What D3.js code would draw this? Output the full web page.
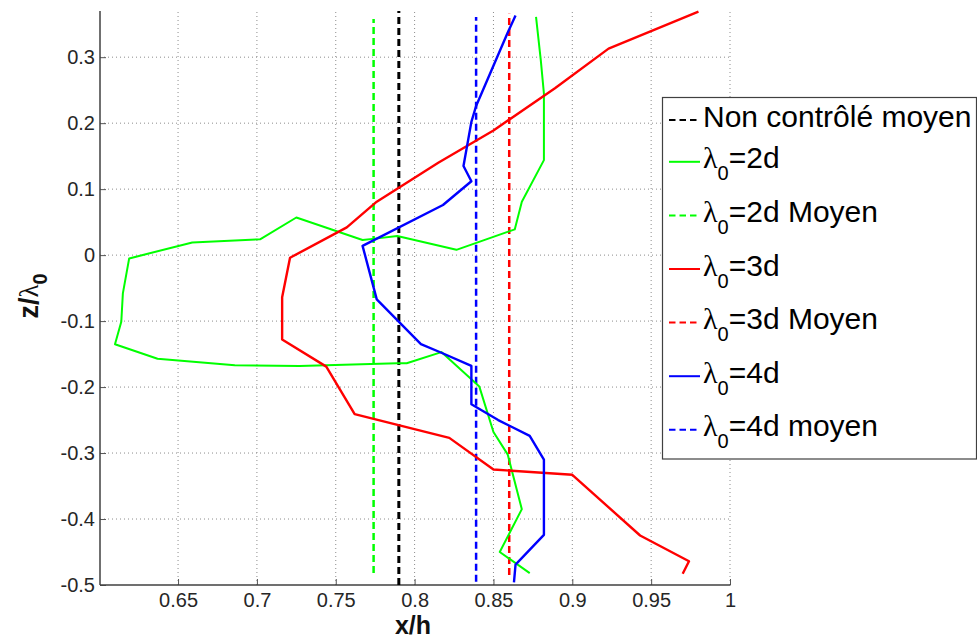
<!DOCTYPE html>
<html><head><meta charset="utf-8">
<script src="https://cdn.jsdelivr.net/npm/d3@7"></script>
<style>body{margin:0;background:#fff}svg{display:block}</style>
</head><body><svg id="c" width="977" height="641"></svg>
<script>
// ---- data ----
const lambda2dX = [0.877,0.880,0.882,0.882,0.868,0.8635,0.8265,0.789,0.775,0.767,0.725,0.702,0.659,0.619,0.615,0.614,0.610,0.637,0.686,0.727,0.789,0.795,0.817,0.836,0.841,0.850,0.859,0.868,0.854,0.873];
const lambda2dZ = [0.361,0.296,0.245,0.144,0.081,0.039,0.008,0.029,0.025,0.023,0.057,0.024,0.019,-0.005,-0.058,-0.101,-0.135,-0.157,-0.167,-0.168,-0.164,-0.164,-0.147,-0.188,-0.199,-0.268,-0.302,-0.385,-0.450,-0.482];
const lambda3dX = [0.980,0.923,0.889,0.850,0.815,0.776,0.757,0.721,0.716,0.716,0.744,0.762,0.822,0.850,0.900,0.943,0.974,0.970];
const lambda3dZ = [0.369,0.313,0.253,0.189,0.140,0.081,0.042,-0.004,-0.064,-0.128,-0.169,-0.241,-0.277,-0.325,-0.333,-0.425,-0.464,-0.483];
const lambda4dX = [0.864,0.859,0.839,0.836,0.831,0.836,0.818,0.767,0.776,0.804,0.817,0.836,0.836,0.853,0.873,0.882,0.882,0.864,0.863];
const lambda4dZ = [0.363,0.337,0.226,0.202,0.135,0.112,0.076,0.014,-0.067,-0.135,-0.148,-0.168,-0.226,-0.250,-0.274,-0.310,-0.424,-0.469,-0.496];

const meanNonControleX = [0.790,0.790];
const meanNonControleZ = [-0.500,0.370];
const mean2dX = [0.774,0.774];
const mean2dZ = [-0.482,0.358];
const mean3dX = [0.860,0.860];
const mean3dZ = [-0.485,0.366];
const mean4dX = [0.839,0.839];
const mean4dZ = [-0.495,0.361];

const xTicks = [0.65,0.7,0.75,0.8,0.85,0.9,0.95,1];
const xTickLabels = ["0.65","0.7","0.75","0.8","0.85","0.9","0.95","1"];
const zTicks = [-0.5,-0.4,-0.3,-0.2,-0.1,0,0.1,0.2,0.3];
const zTickLabels = ["-0.5","-0.4","-0.3","-0.2","-0.1","0","0.1","0.2","0.3"];

const legendNames = ["Non contrôlé moyen","=2d","=2d Moyen","=3d","=3d Moyen","=4d","=4d moyen"];
const legendColors = ["#000000","#00ff00","#00ff00","#ff0000","#ff0000","#0000ff","#0000ff"];
const legendDashed = [true,false,true,false,true,false,true];
const legendLambda = [false,true,true,true,true,true,true];

// ---- chart ----
const svg = d3.select("#c");
const x = d3.scaleLinear().domain([0.6005,1]).range([100,730]);
const y = d3.scaleLinear().domain([-0.5,0.37]).range([585,11]);

// grid
const g = svg.append("g");
g.selectAll(".gx").data(xTicks).enter().append("line")
  .attr("x1",d=>x(d)).attr("x2",d=>x(d)).attr("y1",585).attr("y2",11)
  .attr("stroke","#8c8c8c").attr("stroke-width",1).attr("stroke-dasharray","1,3");
g.selectAll(".gy").data(zTicks.filter(d=>d>-0.5)).enter().append("line")
  .attr("x1",100).attr("x2",730).attr("y1",d=>y(d)).attr("y2",d=>y(d))
  .attr("stroke","#8c8c8c").attr("stroke-width",1).attr("stroke-dasharray","1,3");

// axes
const xAxis = d3.axisBottom(x).tickValues(xTicks).tickFormat((d,i)=>xTickLabels[i]).tickSize(-6).tickPadding(12);
const yAxis = d3.axisLeft(y).tickValues(zTicks).tickFormat((d,i)=>zTickLabels[i]).tickSize(-6).tickPadding(5);
const gx = svg.append("g").attr("transform","translate(0,585)").call(xAxis);
const gy = svg.append("g").attr("transform","translate(100,0)").call(yAxis);
[gx,gy].forEach(a=>{
  a.select(".domain").remove();
  a.selectAll(".tick line").attr("stroke","#555");
  a.selectAll("text").attr("font-family","Liberation Sans, Arial, sans-serif").attr("font-size",20).attr("fill","#262626");
});
gx.selectAll("text").attr("dy","0.72em").attr("y",8);
svg.append("line").attr("x1",100).attr("x2",730.5).attr("y1",585).attr("y2",585).attr("stroke","#404040").attr("stroke-width",1.5);
svg.append("line").attr("x1",100).attr("x2",100).attr("y1",11).attr("y2",585).attr("stroke","#404040").attr("stroke-width",1.5);

// axis labels
svg.append("text").attr("x",413).attr("y",634).attr("text-anchor","middle")
  .attr("font-family","Liberation Sans, Arial, sans-serif").attr("font-weight","bold").attr("font-size",25)
  .attr("fill","#111").text("x/h");
const yl = svg.append("text").attr("transform","translate(38,296) rotate(-90)").attr("text-anchor","middle")
  .attr("font-family","Liberation Sans, Arial, sans-serif").attr("font-weight","bold").attr("font-size",27).attr("fill","#111");
yl.append("tspan").text("z/");
yl.append("tspan").attr("font-family","Liberation Serif, serif").attr("font-weight","normal").text("λ");
yl.append("tspan").attr("font-size",20).attr("dy",9).text("0");

// lines
const line = d3.line().x(d=>x(d[0])).y(d=>y(d[1]));
const zip = (a,b)=>a.map((v,i)=>[v,b[i]]);
const series = [
  {xs:mean2dX, zs:mean2dZ, c:"#00ff00", w:2.5, dash:true},
  {xs:meanNonControleX, zs:meanNonControleZ, c:"#000000", w:3, dash:true},
  {xs:mean4dX, zs:mean4dZ, c:"#0000ff", w:2.5, dash:true},
  {xs:mean3dX, zs:mean3dZ, c:"#ff0000", w:2.5, dash:true},
  {xs:lambda2dX, zs:lambda2dZ, c:"#00ff00", w:2, dash:false},
  {xs:lambda3dX, zs:lambda3dZ, c:"#ff0000", w:2.4, dash:false},
  {xs:lambda4dX, zs:lambda4dZ, c:"#0000ff", w:2.4, dash:false}
];
svg.append("g").selectAll("path").data(series).enter().append("path")
  .attr("d",s=>line(zip(s.xs,s.zs))).attr("fill","none")
  .attr("stroke",s=>s.c).attr("stroke-width",s=>s.w)
  .attr("stroke-dasharray",s=>s.dash?"7,4":null).attr("stroke-linejoin","round");

// legend
const lg = svg.append("g");
lg.append("rect").attr("x",662.5).attr("y",97.5).attr("width",314).attr("height",361.5)
  .attr("fill","#fff").attr("stroke","#404040").attr("stroke-width",1.2);
const baselines = legendNames.map((d,i)=> i===0 ? 127 : 168.3 + (i-1)*53.6);
legendNames.forEach((name,i)=>{
  const b = baselines[i];
  const ly = i===0 ? 120 : b-6.5;
  lg.append("line").attr("x1",669).attr("x2",700).attr("y1",ly).attr("y2",ly)
    .attr("stroke",legendColors[i]).attr("stroke-width",2)
    .attr("stroke-dasharray",legendDashed[i]?"6.5,4":null);
  const t = lg.append("text").attr("x",703).attr("y",b)
    .attr("font-family","Liberation Sans, Arial, sans-serif").attr("font-size",30).attr("fill","#000");
  if(legendLambda[i]){
    t.append("tspan").attr("font-family","Liberation Serif, serif").text("λ");
    t.append("tspan").attr("font-size",20).attr("dy",12).text("0");
    t.append("tspan").attr("dy",-12).text(name);
  } else {
    t.text(name);
  }
});
</script>
</body></html>
